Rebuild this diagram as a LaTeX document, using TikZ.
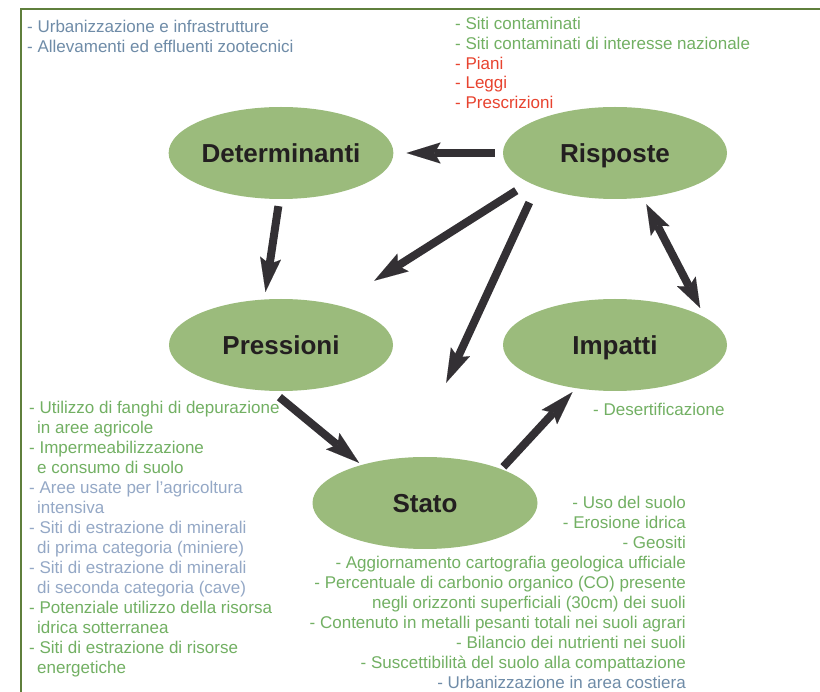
\documentclass[tikz,border=0pt]{standalone}
\usepackage{fontspec}
\setmainfont{Liberation Sans}
\usetikzlibrary{shapes.geometric,arrows.meta}

\definecolor{leaf}{HTML}{9BBB7C}
\definecolor{ink}{HTML}{231F20}
\definecolor{arrowc}{HTML}{333034}
\definecolor{framec}{HTML}{5F7F3C}
\definecolor{tgreen}{HTML}{72B063}
\definecolor{tblue}{HTML}{6F8CA8}
\definecolor{tsky}{HTML}{94A8C6}
\definecolor{tred}{HTML}{E8432F}

\newcommand{\gline}[1]{\textcolor{tgreen}{#1}}
\newcommand{\bline}[1]{\textcolor{tblue}{#1}}
\newcommand{\sline}[1]{\textcolor{tsky}{#1}}
\newcommand{\rline}[1]{\textcolor{tred}{#1}}
\newcommand{\ind}{\hspace*{8pt}}

\begin{document}
\begin{tikzpicture}[x=1pt,y=-1pt,
  stage/.style={ellipse, fill=leaf, draw=none, inner sep=0pt,
    minimum width=224pt, minimum height=92pt,
    font=\fontsize{26}{30}\selectfont\bfseries, text=ink,
    text height=18.6pt, text depth=0pt},
  flow/.style={draw=arrowc, line width=8pt,
    -{Stealth[length=34pt,width=21pt,inset=6pt,line width=0.01pt]}},
  twoway/.style={draw=arrowc, line width=8pt,
    {Stealth[length=30pt,width=21pt,inset=6pt,line width=0.01pt]}-{Stealth[length=30pt,width=21pt,inset=6pt,line width=0.01pt]}},
  notes/.style={inner sep=0pt, font=\fontsize{17}{20}\selectfont, align=left},
  frame/.style={draw=framec, line width=1.6pt}
]
\useasboundingbox (0,0) rectangle (820,692);
\fill[white] (0,0) rectangle (820,692);

% outer frame (top and left edges)
\draw[frame] (820,9) -- (21,9) -- (21,692);

% DPSIR stages
\node[stage] (det) at (281,153) {Determinanti};
\node[stage] (ris) at (615,153) {Risposte};
\node[stage] (pre) at (281,345) {Pressioni};
\node[stage] (imp) at (615,345) {Impatti};
\node[stage, minimum width=225pt] (sta) at (425,503) {Stato};

% connectors
\draw[flow, shorten <=8pt, shorten >=13pt] (ris.west) -- (det.east);
\draw[flow, shorten <=7pt, shorten >=7.6pt] (det.268.9) -- (pre.110.7);
\draw[flow, shorten <=15pt, shorten >=45pt] (ris.199.4) -- (pre.36.1);
\draw[flow, shorten <=18pt, shorten >=82pt] (ris.203.3) -- (sta.106.7);
\draw[twoway, shorten <=7.4pt, shorten >=10.7pt] (ris.302.9) -- (imp.17);
\draw[flow, shorten <=9.6pt, shorten >=3.2pt] (pre.259.7) -- (sta.149.2);
\draw[flow, shorten <=3pt, shorten >=5.2pt] (sta.24) -- (imp.228.4);

% indicator lists
\node[notes, anchor=north west] (ldet) at (27,18)
  {\strut\bline{- Urbanizzazione e infrastrutture}\\
   \bline{- Allevamenti ed effluenti zootecnici}};

\node[notes, anchor=north west, font=\fontsize{17}{19.75}\selectfont] (lris) at (455,15.7)
  {\strut\gline{- Siti contaminati}\\
   \gline{- Siti contaminati di interesse nazionale}\\
   \rline{- Piani}\\
   \rline{- Leggi}\\
   \rline{- Prescrizioni}};

\node[notes, anchor=north west] (lpre) at (29,399)
  {\strut\gline{- Utilizzo di fanghi di depurazione}\\
   \gline{\ind in aree agricole}\\
   \gline{- Impermeabilizzazione}\\
   \gline{\ind e consumo di suolo}\\
   \sline{- Aree usate per l’agricoltura}\\
   \sline{\ind intensiva}\\
   \sline{- Siti di estrazione di minerali}\\
   \sline{\ind di prima categoria (miniere)}\\
   \sline{- Siti di estrazione di minerali}\\
   \sline{\ind di seconda categoria (cave)}\\
   \gline{- Potenziale utilizzo della risorsa}\\
   \gline{\ind idrica sotterranea}\\
   \gline{- Siti di estrazione di risorse}\\
   \gline{\ind energetiche}};

\node[notes, anchor=base west] (limp) at (593,416)
  {\gline{- Desertificazione}};

\node[notes, anchor=north east, align=right] (lsta) at (686,494)
  {\strut\gline{- Uso del suolo}\\
   \gline{- Erosione idrica}\\
   \gline{- Geositi}\\
   \gline{- Aggiornamento cartografia geologica ufficiale}\\
   \gline{- Percentuale di carbonio organico (CO) presente}\\
   \gline{negli orizzonti superficiali (30cm) dei suoli}\\
   \gline{- Contenuto in metalli pesanti totali nei suoli agrari}\\
   \gline{- Bilancio dei nutrienti nei suoli}\\
   \gline{- Suscettibilità del suolo alla compattazione}\\
   \bline{- Urbanizzazione in area costiera}};
\end{tikzpicture}
\end{document}
